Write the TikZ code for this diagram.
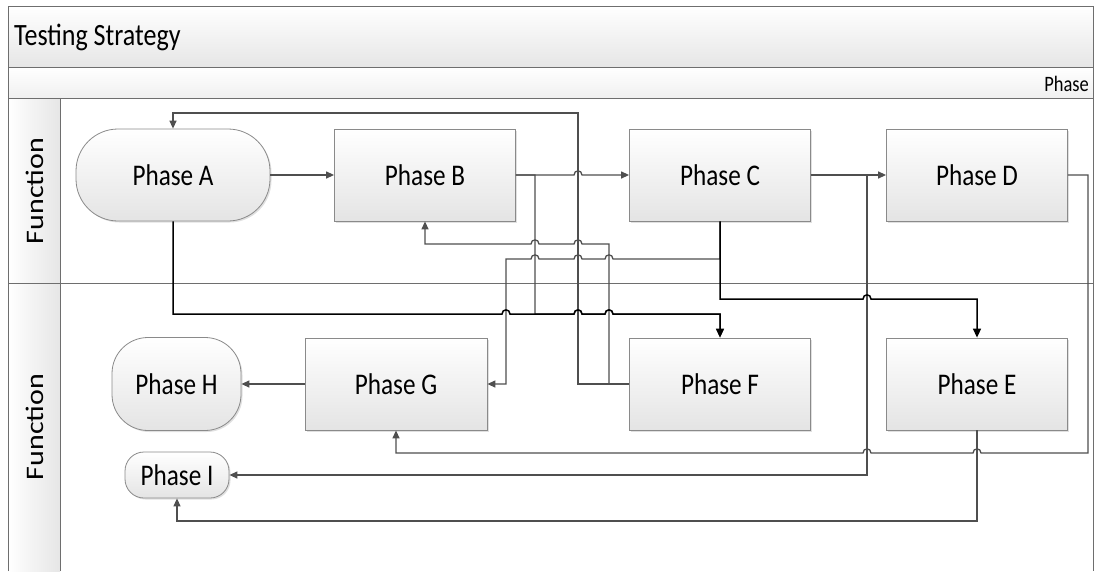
\documentclass[tikz,border=0pt]{standalone}
\usepackage{fontspec}
\setmainfont{Carlito}
\usetikzlibrary{arrows.meta,shadows}
\definecolor{lanegray}{HTML}{6E6E6E}
\definecolor{boxgray}{HTML}{8A8A8A}
\definecolor{boxbot}{HTML}{E4E4E4}
\definecolor{conngray}{HTML}{4F4F4F}
\definecolor{barbot}{HTML}{E6E6E6}
\newcommand\hsq[1]{\scalebox{0.84}[1]{#1}}
\begin{document}
\begin{tikzpicture}[x=1pt,y=-1pt,
  lane/.style={draw=lanegray, line width=1pt},
  box/.style={draw=boxgray, line width=0.8pt, top color=white, bottom color=boxbot,
    minimum width=181pt, minimum height=92pt, inner sep=0pt,
    font=\fontsize{30}{30}\selectfont,
    drop shadow={shadow xshift=1.5pt, shadow yshift=-1.5pt, fill=black, opacity=0.12}},
  term/.style={box, rounded corners=#1},
  term/.default=36pt,
  conn/.style={draw=conngray, line width=1.3pt, -{Triangle[length=8pt,width=7pt]}},
  heavy/.style={draw=black, line width=1.5pt, -{Triangle[length=9pt,width=8pt]}},
]
\useasboundingbox (0,0) rectangle (1096,571);
% swimlane frame
\shade[top color=white, bottom color=barbot] (8,6) rectangle (1093,67);
\shade[top color=white, bottom color=barbot!60] (8,67) rectangle (1093,98);
\shade[left color=white, right color=barbot] (8,98) rectangle (60,571);
\draw[lane] (8,571) -- (8,6) -- (1093,6) -- (1093,571);
\draw[lane] (8,67) -- (1093,67);
\draw[lane] (8,98) -- (1093,98);
\draw[lane] (8,283) -- (1093,283);
\draw[lane] (60,98) -- (60,571);
\node[anchor=base west, inner sep=0pt, font=\fontsize{31}{31}\selectfont] (title) at (14,45.5) {\hsq{Testing Strategy}};
\node[anchor=base east, inner sep=0pt, font=\fontsize{22}{22}\selectfont] (phasehdr) at (1089,91) {\hsq{Phase}};
\node[inner sep=0pt] (fn1) at (34.5,191) {\hsq{\rotatebox{90}{\fontsize{30}{30}\selectfont Function}}};
\node[inner sep=0pt] (fn2) at (34.5,427) {\hsq{\rotatebox{90}{\fontsize{30}{30}\selectfont Function}}};
% phases
\node[term=42pt, minimum width=194pt] (A) at (173,175) {\hsq{Phase A}};
\node[box] (B) at (425,175) {\hsq{Phase B}};
\node[box] (C) at (720,175) {\hsq{Phase C}};
\node[box] (D) at (977,175) {\hsq{Phase D}};
\node[box] (F) at (720,384) {\hsq{Phase F}};
\node[box] (E) at (977,384) {\hsq{Phase E}};
\node[box, minimum width=182pt] (G) at (396,384) {\hsq{Phase G}};
\node[term=36pt, minimum width=129pt, minimum height=93pt] (H) at (176.5,384) {\hsq{Phase H}};
\node[term=19pt, minimum width=104pt, minimum height=46pt] (I) at (177,475) {\hsq{Phase I}};
% gray connectors
\draw[conn] (A.east) -- (B.west);
\draw[conn] (B.east) -- (574,175) .. controls +(0,-5.5) and +(0,-5.5) .. (582,175) -- (C.west);
\draw[conn] (B.east) -- (535,175) -- (535,314) -- (574,314) .. controls +(0,-5.5) and +(0,-5.5) .. (582,314) -- (605,314) .. controls +(0,-5.5) and +(0,-5.5) .. (613,314) -- (720,314) -- (F.north);
\draw[conn] (F.west) -- (578,384) -- (578,113) -- (173,113) -- (A.north);
\draw[conn] (F.west) -- (609,384) -- (609,244) -- (582,244) .. controls +(0,-5.5) and +(0,-5.5) .. (574,244) -- (539,244) .. controls +(0,-5.5) and +(0,-5.5) .. (531,244) -- (425,244) -- (B.south);
\draw[conn] (C.south) -- (720,259) -- (613,259) .. controls +(0,-5.5) and +(0,-5.5) .. (605,259) -- (582,259) .. controls +(0,-5.5) and +(0,-5.5) .. (574,259) -- (539,259) .. controls +(0,-5.5) and +(0,-5.5) .. (531,259) -- (506,259) -- (506,384) -- (G.east);
\draw[conn] (C.east) -- (D.west);
\draw[conn] (C.east) -- (867,175) -- (867,475) -- (I.east);
\draw[conn] (D.east) -- (1088,175) -- (1088,453) -- (981,453) .. controls +(0,-5.5) and +(0,-5.5) .. (973,453) -- (871,453) .. controls +(0,-5.5) and +(0,-5.5) .. (863,453) -- (396,453) -- (G.south);
\draw[conn] (E.south) -- (977,521) -- (177,521) -- (I.south);
\draw[conn] (G.west) -- (H.east);
% heavy connectors
\draw[heavy] (A.south) -- (173,314) -- (502,314) .. controls +(0,-5.5) and +(0,-5.5) .. (510,314) -- (574,314) .. controls +(0,-5.5) and +(0,-5.5) .. (582,314) -- (605,314) .. controls +(0,-5.5) and +(0,-5.5) .. (613,314) -- (720,314) -- (F.north);
\draw[heavy] (C.south) -- (720,299) -- (863,299) .. controls +(0,-5.5) and +(0,-5.5) .. (871,299) -- (977,299) -- (E.north);
\end{tikzpicture}
\end{document}
